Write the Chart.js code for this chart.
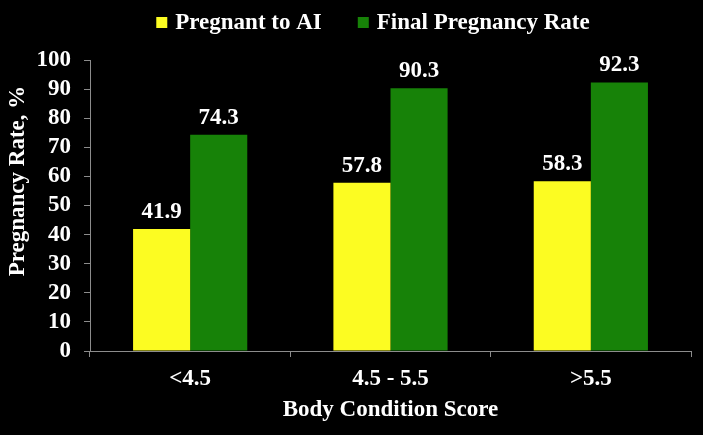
<!DOCTYPE html>
<html>
<head>
<meta charset="utf-8">
<script src="https://cdn.jsdelivr.net/npm/chart.js@4/dist/chart.umd.min.js"></script>
<style>
  html, body { margin: 0; padding: 0; background: #000; }
  #wrap { width: 703px; height: 435px; position: relative; }
</style>
</head>
<body>
<div id="wrap"><canvas id="c"></canvas></div>
<script>
const categories = ['<4.5', '4.5 - 5.5', '>5.5'];
const pregnantToAI = [41.9, 57.8, 58.3];
const finalPregnancyRate = [74.3, 90.3, 92.3];
const seriesNames = ['Pregnant to AI', 'Final Pregnancy Rate'];
const xTitle = 'Body Condition Score';
const yTitle = 'Pregnancy Rate, %';

const FONT = "'Liberation Serif', 'Times New Roman', serif";
const font = (s) => ({ family: FONT, size: s, weight: 'bold' });

const bgPlugin = {
  id: 'bg',
  beforeDraw(chart) {
    const c = chart.ctx;
    c.save();
    c.fillStyle = '#000';
    c.fillRect(0, 0, chart.width, chart.height);
    c.restore();
  }
};

const valueLabels = {
  id: 'valueLabels',
  afterDatasetsDraw(chart) {
    const c = chart.ctx;
    c.save();
    c.fillStyle = '#fff';
    c.font = 'bold 23px ' + FONT;
    c.textAlign = 'center';
    c.textBaseline = 'alphabetic';
    chart.data.datasets.forEach((ds, i) => {
      chart.getDatasetMeta(i).data.forEach((el, j) => {
        c.fillText(ds.data[j].toFixed(1), el.x, el.y - 11);
      });
    });
    c.restore();
  }
};

const customLegend = {
  id: 'customLegend',
  afterDraw(chart) {
    const c = chart.ctx;
    c.save();
    c.font = 'bold 23px ' + FONT;
    const box = 11, gap = 8, spacing = 36;
    const items = chart.data.datasets.map(ds => ({ text: ds.label, color: ds.backgroundColor, w: c.measureText(ds.label).width }));
    const total = items.reduce((a, it) => a + box + gap + it.w, 0) + spacing * (items.length - 1);
    let x = 373 - total / 2;
    const baseline = 29;
    items.forEach(it => {
      c.fillStyle = it.color;
      c.fillRect(x, 17, box, box);
      c.fillStyle = '#fff';
      c.textAlign = 'left';
      c.textBaseline = 'alphabetic';
      c.fillText(it.text, x + box + gap, baseline);
      x += box + gap + it.w + spacing;
    });
    c.restore();
  }
};

const yTitlePlugin = {
  id: 'yTitlePlugin',
  afterDraw(chart) {
    const c = chart.ctx;
    c.save();
    c.translate(18, 181);
    c.rotate(-Math.PI / 2);
    c.font = 'bold 23px ' + FONT;
    c.fillStyle = '#fff';
    c.textAlign = 'center';
    c.textBaseline = 'middle';
    c.fillText(yTitle, 0, 0);
    c.restore();
  }
};

new Chart(document.getElementById('c'), {
  type: 'bar',
  data: {
    labels: categories,
    datasets: [
      { label: seriesNames[0], data: pregnantToAI, backgroundColor: '#FCFC22', borderWidth: 0 },
      { label: seriesNames[1], data: finalPregnancyRate, backgroundColor: '#178208', borderColor: '#10700A', borderWidth: 0 }
    ]
  },
  options: {
    responsive: true,
    maintainAspectRatio: false,
    animation: false,
    devicePixelRatio: 1,
    layout: { padding: { top: 60, right: 12, bottom: 0, left: 0 } },
    datasets: { bar: { categoryPercentage: 0.57, barPercentage: 1.0 } },
    plugins: {
      legend: { display: false },
      tooltip: { enabled: false }
    },
    scales: {
      x: {
        afterFit(scale) { scale.height = 84; },
        grid: { display: true, drawOnChartArea: false, drawTicks: true, tickLength: 6, color: '#8c8c8c', offset: true },
        border: { display: true, color: '#8c8c8c', width: 1 },
        ticks: { color: '#fff', font: font(23), padding: 8, maxRotation: 0 },
        title: { display: true, text: xTitle, color: '#fff', font: font(23), padding: { top: 0, bottom: 11 } }
      },
      y: {
        min: 0, max: 100,
        afterFit(scale) { scale.width = 90; },
        grid: { display: true, drawOnChartArea: false, drawTicks: true, tickLength: 6, color: '#8c8c8c' },
        border: { display: true, color: '#8c8c8c', width: 1 },
        ticks: { color: '#fff', font: font(23), padding: 13, stepSize: 10, autoSkip: false }
      }
    }
  },
  plugins: [bgPlugin, valueLabels, customLegend, yTitlePlugin]
});
</script>
</body>
</html>
